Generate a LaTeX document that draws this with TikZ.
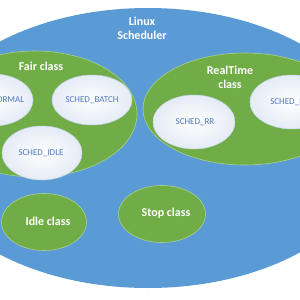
\documentclass[tikz,border=0pt]{standalone}
\usepackage{fontspec}
\setmainfont{Carlito}
\usetikzlibrary{shapes.geometric}
\definecolor{schedblue}{HTML}{5B9BD5}
\definecolor{classgreen}{HTML}{70AD47}
\definecolor{rimgreen}{HTML}{A9D18E}
\definecolor{policytext}{HTML}{4F76C0}
\definecolor{policyrim}{HTML}{C5D3EA}
\tikzset{
  oval/.style={shape=ellipse, inner sep=0pt},
  bigoval/.style={oval, fill=schedblue},
  classoval/.style={oval, fill=classgreen, draw=rimgreen, line width=0.6pt},
  policyoval/.style={oval, inner color=white, outer color=policyrim!45, draw=policyrim, line width=0.5pt},
  classtext/.style={text=white, font=\bfseries\fontsize{12}{14}\selectfont, align=center, inner sep=0pt},
  policytextstyle/.style={text=policytext, font=\fontsize{9}{11}\selectfont, inner sep=0pt},
}
\begin{document}
\begin{tikzpicture}[x=1pt, y=-1pt]
\useasboundingbox (0,0) rectangle (300,300);
\clip (0,0) rectangle (300,300);
\fill[white] (0,0) rectangle (300,300);
% outer scheduler
\node[bigoval, minimum width=456pt, minimum height=280pt] (sched) at (148,148) {};
\node[classtext] (schedlbl) at (142,28) {Linux\\Scheduler};
% fair class
\node[classoval, minimum width=204pt, minimum height=126pt] (fair) at (35,114) {};
\node[classtext] (fairlbl) at (41,66) {Fair class};
\node[policyoval, minimum width=80pt, minimum height=52pt] (normal) at (-7,100) {};
\node[policytextstyle] (normallbl) at (-7,100) {SCHED\_NORMAL};
\node[policyoval, minimum width=80pt, minimum height=50pt] (batch) at (92,100) {};
\node[policytextstyle] (batchlbl) at (92,100) {SCHED\_BATCH};
\node[policyoval, minimum width=80pt, minimum height=54pt] (idle) at (42,153) {};
\node[policytextstyle] (idlelbl) at (41,153) {SCHED\_IDLE};
% realtime class
\node[classoval, minimum width=204pt, minimum height=112pt] (rt) at (245,109) {};
\node[classtext] (rtlbl) at (230,77) {RealTime\\class};
\node[policyoval, minimum width=82pt, minimum height=54pt] (rr) at (194,122) {};
\node[policytextstyle] (rrlbl) at (195,122) {SCHED\_RR};
\node[policyoval, minimum width=84pt, minimum height=54pt] (fifo) at (292,102) {};
\node[policytextstyle] (fifolbl) at (293,102) {SCHED\_FIFO};
% idle and stop classes
\node[classoval, minimum width=85pt, minimum height=57pt] (idlecls) at (44,222) {};
\node[classtext] (idleclslbl) at (48,221) {Idle class};
\node[classoval, minimum width=87pt, minimum height=57pt] (stopcls) at (162,214) {};
\node[classtext] (stopclslbl) at (166,213) {Stop class};
\end{tikzpicture}
\end{document}
